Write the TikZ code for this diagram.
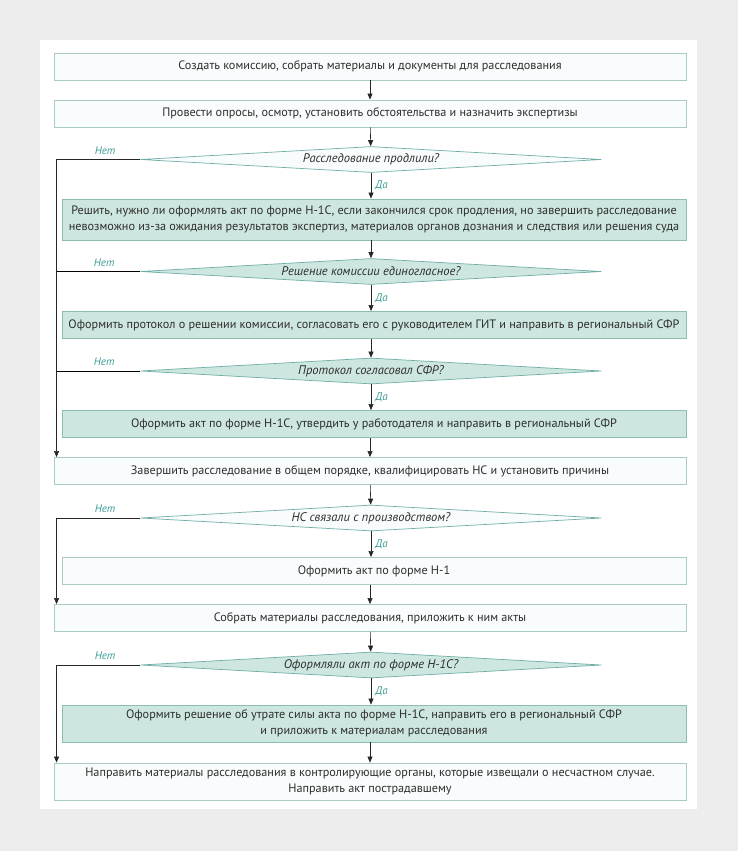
\documentclass[tikz,border=0pt]{standalone}
\usepackage{fontspec}
\setmainfont{PT Sans}
\usetikzlibrary{shapes.geometric,arrows.meta}
\definecolor{bggray}{HTML}{EDEDED}
\definecolor{boxline}{HTML}{AACAC6}
\definecolor{boxfill}{HTML}{F9FCFC}
\definecolor{greenfill}{HTML}{CDE7E0}
\definecolor{greenline}{HTML}{8CBCB2}
\definecolor{askline}{HTML}{6FAEA6}
\definecolor{labelteal}{HTML}{3C9D96}
\definecolor{textgray}{HTML}{2E2E2E}

\tikzset{
  plainbox/.style={draw=boxline, fill=boxfill, line width=0.9pt, minimum width=632pt,
    minimum height=27pt, inner sep=0pt, align=center, text=textgray,
    font=\fontsize{12.2}{16}\selectfont},
  narrow/.style={minimum width=624pt},
  greenbox/.style={plainbox, narrow, draw=greenline, fill=greenfill},
  askplain/.style={diamond, draw=askline, fill=boxfill, line width=0.7pt, aspect=20,
    inner sep=0pt, minimum width=461pt, minimum height=26pt, text=textgray,
    font=\fontsize{12.5}{14}\selectfont\itshape},
  askgreen/.style={askplain, fill=greenfill},
  flow/.style={-{Triangle[length=6pt,width=5pt]}, line width=0.6pt, draw=black!85},
  answer/.style={font=\fontsize{11}{13}\selectfont\itshape, text=labelteal, inner sep=2pt},
}

\begin{document}
\begin{tikzpicture}[x=1pt,y=-1pt]
% background and panel
\fill[bggray] (0,0) rectangle (738,851);
\fill[white] (40,40) rectangle (697,809);

% steps
\node[plainbox] (create) at (370,66.5) {Создать комиссию, собрать материалы и документы для расследования};
\node[plainbox] (survey) at (370,113.5) {Провести опросы, осмотр, установить обстоятельства и назначить экспертизы};
\node[askplain] (extended) at (371,159.5) {Расследование продлили?};
\node[greenbox, minimum height=41pt] (decide) at (374,219.5) {Решить, нужно ли оформлять акт по форме Н-1С, если закончился срок продления, но завершить расследование\\невозможно из-за ожидания результатов экспертиз, материалов органов дознания и следствия или решения суда};
\node[askgreen] (unanimous) at (371,271.5) {Решение комиссии единогласное?};
\node[greenbox] (protocol) at (374,325) {Оформить протокол о решении комиссии, согласовать его с руководителем ГИТ и направить в региональный СФР};
\node[askgreen] (approved) at (371,371) {Протокол согласовал СФР?};
\node[greenbox] (actonec) at (374,424) {Оформить акт по форме Н-1С, утвердить у работодателя и направить в региональный СФР};
\node[plainbox] (finish) at (370,471) {Завершить расследование в общем порядке, квалифицировать НС и установить причины};
\node[askplain] (linked) at (371,518) {НС связали с производством?};
\node[plainbox, narrow] (actone) at (374,571) {Оформить акт по форме Н-1};
\node[plainbox] (collect) at (370,618) {Собрать материалы расследования, приложить к ним акты};
\node[askgreen] (wasdone) at (371,665) {Оформляли акт по форме Н-1С?};
\node[greenbox, minimum height=37pt] (revoke) at (374,723.5) {Оформить решение об утрате силы акта по форме Н-1С, направить его в региональный СФР\\и приложить к материалам расследования};
\node[plainbox, minimum height=37pt] (send) at (370,781.5) {Направить материалы расследования в контролирующие органы, которые извещали о несчастном случае.\\Направить акт пострадавшему};

% rails on the left
\coordinate (railA) at ([xshift=3pt]finish.north west);
\coordinate (railB) at ([xshift=3pt]collect.north west);
\coordinate (railC) at ([xshift=3pt]send.north west);

% main line
\draw[flow] (create) -- (survey);
\draw[flow] (survey) -- (extended);
\draw[flow] (extended) -- node[answer,right,xshift=2pt] {Да} (extended |- decide.north);
\draw[flow] (unanimous |- decide.south) -- (unanimous);
\draw[flow] (unanimous) -- node[answer,right,xshift=2pt] {Да} (unanimous |- protocol.north);
\draw[flow] (approved |- protocol.south) -- (approved);
\draw[flow] (approved) -- node[answer,right,xshift=2pt] {Да} (approved |- actonec.north);
\draw[flow] (finish |- actonec.south) -- (finish);
\draw[flow] (finish) -- (linked);
\draw[flow] (linked) -- node[answer,right,xshift=2pt] {Да} (linked |- actone.north);
\draw[flow] (collect |- actone.south) -- (collect);
\draw[flow] (collect) -- (wasdone);
\draw[flow] (wasdone) -- node[answer,right,xshift=2pt] {Да} (wasdone |- revoke.north);
\draw[flow] (send |- revoke.south) -- (send);

% "no" branches
\draw[flow] (extended.west) -| node[answer,above,pos=0.21,yshift=3pt] {Нет} (railA);
\draw (unanimous.west) -- node[answer,above,pos=0.43,yshift=3pt] {Нет} (unanimous.west -| railA);
\draw (approved.west) -- node[answer,above,pos=0.43,yshift=3pt] {Нет} (approved.west -| railA);
\draw[flow] (linked.west) -| node[answer,above,pos=0.21,yshift=3pt] {Нет} (railB);
\draw[flow] (wasdone.west) -| node[answer,above,pos=0.21,yshift=3pt] {Нет} (railC);
\end{tikzpicture}
\end{document}
